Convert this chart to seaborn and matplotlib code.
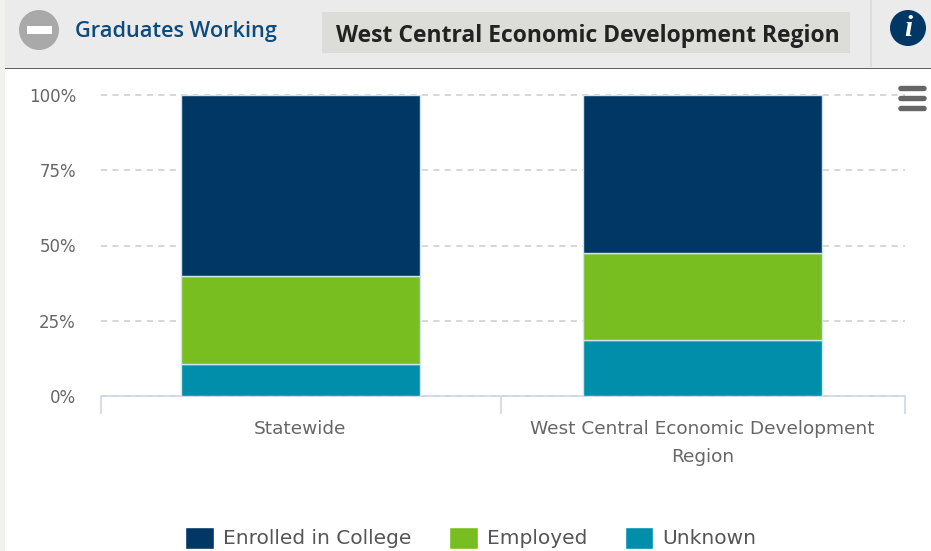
import matplotlib
matplotlib.use('Agg')
import matplotlib.pyplot as plt
from matplotlib.patches import Circle, Rectangle, FancyBboxPatch
import pandas as pd
import seaborn as sns

# values, stack order is bottom to top
regions = ['Statewide', 'West Central Economic Development\nRegion']
unknown = [10.6, 18.5]
employed = [29.3, 29.0]
enrolled = [60.1, 52.5]
y_ticks = [0, 25, 50, 75, 100]
y_labels = ['0%', '25%', '50%', '75%', '100%']
header_title = 'Graduates Working'
header_region = 'West Central Economic Development Region'

NAVY = '#003764'
GREEN = '#78be20'
TEAL = '#008eaa'
W, H = 931, 551

sns.set_theme(style='white')
plt.rcParams['font.family'] = ['DejaVu Sans']
plt.rcParams['font.sans-serif'] = ['DejaVu Sans']

df = pd.DataFrame({'region': regions, 'Unknown': unknown, 'Employed': employed,
                   'Enrolled in College': enrolled})

fig = plt.figure(figsize=(W / 100, H / 100), dpi=100, facecolor='white')

# plot area in pixels: x 101-905, y 95-396
ax = fig.add_axes([101 / W, 1 - 396 / H, (905 - 101) / W, (396 - 95) / H])
ax.set_axisbelow(True)

# stack the bars, drawn bottom up
bottom = [0, 0]
for name, color in [('Unknown', TEAL), ('Employed', GREEN), ('Enrolled in College', NAVY)]:
    sns.barplot(data=df, x='region', y=name, ax=ax, color=color, bottom=bottom, width=0.595,
                saturation=1, edgecolor='#cfe6f0', linewidth=1.0, zorder=3)
    bottom = [b + v for b, v in zip(bottom, df[name])]

ax.set_xlim(-0.496, 1.504)
ax.set_ylim(0, 100)
ax.set_xlabel('')
ax.set_ylabel('')
ax.set_yticks(y_ticks)
ax.set_yticklabels(y_labels, fontsize=12, color='#666666', family='DejaVu Sans')
ax.tick_params(axis='y', length=0, pad=18)
ax.grid(axis='y', color='#cccccc', linestyle=(0, (4, 3.5)), linewidth=1.1)
for t in ax.yaxis.get_gridlines():
    t.set_clip_on(False)
ax.set_xticks([0, 1])
ax.set_xticklabels(regions, fontsize=13.3, color='#666666', linespacing=1.7, family='DejaVu Sans')
ax.tick_params(axis='x', which='major', length=0, pad=17.5)
ax.set_xticks([-0.496, 0.5, 1.504], minor=True)
ax.tick_params(axis='x', which='minor', bottom=True, length=13, width=1.2, color='#ccd6eb')
sns.despine(ax=ax, left=True, top=True, right=True)
ax.spines['bottom'].set_color('#ccd6eb')
ax.spines['bottom'].set_linewidth(1.2)

# legend, same order as the original (top of stack first)
handles, labels = [], []
for name, color in [('Enrolled in College', NAVY), ('Employed', GREEN), ('Unknown', TEAL)]:
    handles.append(Rectangle((0, 0), 1, 1, facecolor=color))
    labels.append(name)
leg = fig.legend(handles, labels, loc='center', bbox_to_anchor=(471 / W, 1 - 538 / H), ncol=3,
                 frameon=False, handlelength=1.4, handleheight=1.1, handletextpad=0.45,
                 columnspacing=1.9, labelcolor='#555555',
                 prop={'family': 'DejaVu Sans', 'size': 14.5})
for h in leg.legend_handles:
    h.set_height(16)
    h.set_y(-3.3)

# header strip and icons, drawn in pixel coordinates on a full figure overlay
ov = fig.add_axes([0, 0, 1, 1], zorder=-1)
ov.set_xlim(0, W)
ov.set_ylim(H, 0)
ov.axis('off')
ov.add_patch(Rectangle((0, 0), W, 68, facecolor='#ebebeb', edgecolor='none'))
ov.add_patch(Rectangle((0, 0), 5, H, facecolor='#f1f1ef', edgecolor='none'))
ov.add_patch(Rectangle((5, 67.5), W, 1.8, facecolor='#5f5f5f', edgecolor='none'))
ov.add_patch(Rectangle((322, 12), 528, 41, facecolor='#dcdcd8', edgecolor='none'))
ov.add_patch(Rectangle((870, 0), 1.5, 67, facecolor='#dddddd', edgecolor='none'))
ov.add_patch(Circle((39, 30), 20, facecolor='#a9a9a9', edgecolor='none'))
ov.add_patch(Rectangle((27, 26), 25, 8, facecolor='white', edgecolor='none'))
ov.add_patch(Circle((908, 28), 18, facecolor=NAVY, edgecolor='none'))
ov.text(908, 29, 'i', color='white', fontsize=21, fontweight='bold', style='italic',
        family='Liberation Serif', ha='center', va='center')
ov.text(75, 31, header_title, color='#0d4a7d', fontsize=15.7, family='Open Sans',
        fontweight='semibold', ha='left', va='center')
ov.text(588, 36, header_region, color='#222222', fontsize=16.5, family='Open Sans',
        fontweight='bold', ha='center', va='center')

# chart menu icon sits above the plot
top = fig.add_axes([0, 0, 1, 1], zorder=5)
top.set_xlim(0, W)
top.set_ylim(H, 0)
top.axis('off')
top.patch.set_alpha(0)
for y in [88.5, 98.5, 108.5]:
    top.add_patch(FancyBboxPatch((899, y - 2), 27, 4, boxstyle='round,pad=0,rounding_size=2',
                                 facecolor='#666666', edgecolor='#666666', linewidth=1))

fig.savefig('out.png', dpi=100)
